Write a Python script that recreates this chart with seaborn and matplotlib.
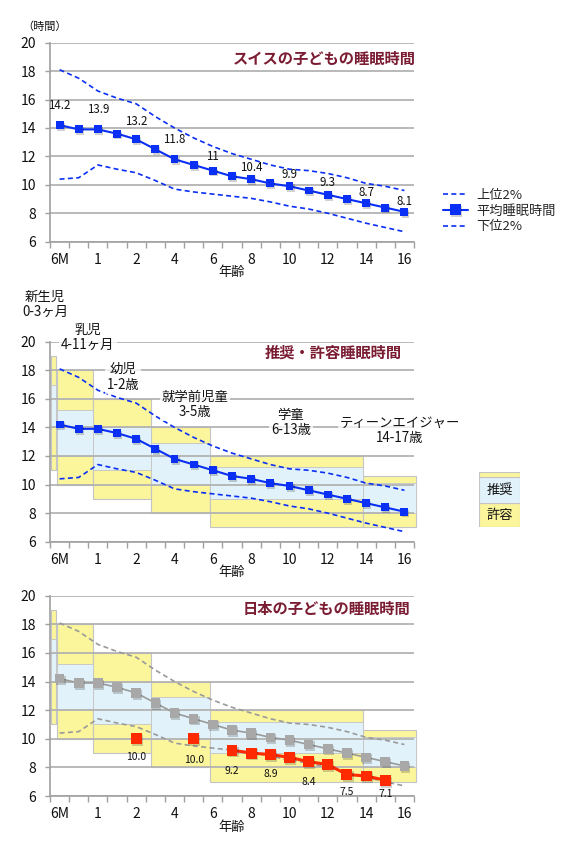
import numpy as np
import pandas as pd
import seaborn as sns
import matplotlib
matplotlib.use("Agg")
import matplotlib.pyplot as plt
import matplotlib.patheffects as pe
from matplotlib.patches import Rectangle
from matplotlib.lines import Line2D

# ---------------- data ----------------
ages = ["6M", "9M", "1", "1.5", "2", "3", "4", "5", "6", "7", "8", "9",
        "10", "11", "12", "13", "14", "15", "16"]
shown_ticks = ["6M", "1", "2", "4", "6", "8", "10", "12", "14", "16"]

swiss_mean = [14.2, 13.9, 13.9, 13.6, 13.2, 12.5, 11.8, 11.4, 11.0, 10.6,
              10.4, 10.1, 9.9, 9.6, 9.3, 9.0, 8.7, 8.4, 8.1]
swiss_upper = [18.1, 17.5, 16.6, 16.1, 15.7, 14.8, 14.0, 13.3, 12.7, 12.2,
               11.8, 11.4, 11.1, 11.0, 10.8, 10.5, 10.1, 9.9, 9.6]
swiss_lower = [10.4, 10.5, 11.4, 11.1, 10.85, 10.3, 9.7, 9.5, 9.35, 9.2,
               9.05, 8.8, 8.5, 8.3, 8.0, 7.65, 7.3, 7.0, 6.7]
swiss_label_idx = [0, 2, 4, 6, 8, 10, 12, 14, 16, 18]
swiss_label_txt = ["14.2", "13.9", "13.2", "11.8", "11", "10.4", "9.9", "9.3", "8.7", "8.1"]

japan = [np.nan, np.nan, np.nan, np.nan, 10.0, np.nan, np.nan, 10.0, np.nan,
         9.2, 9.0, 8.9, 8.7, 8.4, 8.2, 7.5, 7.4, 7.1, np.nan]
japan_label_idx = [4, 7, 9, 11, 13, 15, 17]
japan_label_txt = ["10.0", "10.0", "9.2", "8.9", "8.4", "7.5", "7.1"]

groups = ["新生児\n0-3ヶ月", "乳児\n4-11ヶ月", "幼児\n1-2歳", "就学前児童\n3-5歳",
          "学童\n6-13歳", "ティーンエイジャー\n14-17歳"]
rec_lo = [14, 12, 11, 10, 9, 8]
rec_hi = [17, 15.2, 14, 12.9, 11.2, 10.1]
ok_lo = [11, 10, 9, 8, 7, 7]
ok_hi = [19, 18, 16, 14, 12, 10.6]

# ---------------- layout / style ----------------
group_start = [-0.46, -0.12, 1.76, 4.77, 7.87, 15.83]
group_end = [-0.19, 1.76, 4.77, 7.87, 15.83, 18.62]
group_text_pos = [(-0.76, 22.6), (1.48, 20.3), (3.31, 17.55), (7.07, 15.6),
                  (12.08, 14.35), (17.77, 13.8)]
swiss_label_dy = [20, 20, 18, 20, 14, 12, 12, 12, 11, 10]   # px above
japan_label_dy = [18, 21, 21, 19, 20, 17, 14]               # px below

BLUE = "#0a2ff5"
RED = "#ff2a00"
GRAY_M = "#a8a8a8"
GRAY_L = "#9a9a9a"
YEL = "#fbf59c"
LBLUE = "#e1f2fa"
EDGE = "#c4c4c4"
GRID = "#b3b3b3"
TITLE = "#7a1c32"
PX = 0.72  # px -> pt at 100 dpi

sns.set_theme(style="white")
plt.rcParams["font.family"] = ["Noto Sans CJK JP", "DejaVu Sans"]

df = pd.DataFrame({"pos": np.arange(len(ages)), "age": ages,
                   "mean": swiss_mean, "upper": swiss_upper,
                   "lower": swiss_lower, "japan": japan})

fig = plt.figure(figsize=(5.79, 8.5), dpi=100)
W, H = 579, 850


def make_ax(top_px, bottom_px):
    ax = fig.add_axes([50 / W, 1 - bottom_px / H, 364 / W, (bottom_px - top_px) / H])
    ax.set_xlim(-0.5, 18.5)
    ax.set_ylim(6, 20)
    ax.set_yticks(np.arange(6, 21, 2))
    ax.yaxis.grid(True, color=GRID, lw=1.3)
    ax.set_axisbelow(True)
    for s in ["top", "right"]:
        ax.spines[s].set_visible(False)
    for s in ["left", "bottom"]:
        ax.spines[s].set_color("#a0a0a0")
        ax.spines[s].set_linewidth(1.2)
    ax.set_xticks(np.arange(-0.5, 19, 1))
    ax.set_xticklabels([])
    ax.tick_params(axis="x", which="major", direction="out", length=4,
                   color="#a0a0a0", width=1, bottom=True)
    ax.set_xticks(np.arange(0, 19, 2), shown_ticks, minor=True)
    ax.tick_params(axis="x", which="minor", length=0, pad=8, labelsize=10,
                   labelcolor="#111111")
    ax.tick_params(axis="y", direction="out", length=3.5, color="#a0a0a0",
                   width=1, left=True, pad=6.5, labelsize=10, labelcolor="#111111")
    ax.set_xlabel("")
    ax.set_ylabel("")
    ax.annotate("年齢", xy=(0.5, 0), xycoords="axes fraction",
                xytext=(0, -31 * PX), textcoords="offset points",
                ha="center", va="center", fontsize=9.5, color="#111111")
    return ax


shadow = [pe.SimplePatchShadow(offset=(0.8, -1.3), shadow_rgbFace="black", alpha=0.18),
          pe.Normal()]


def draw_swiss(ax, line_c, mark_c, dash_c, msize, lw):
    sns.lineplot(data=df, x="pos", y="upper", ax=ax, color=dash_c, lw=1.2,
                 linestyle=(0, (3, 2)), zorder=3)
    sns.lineplot(data=df, x="pos", y="lower", ax=ax, color=dash_c, lw=1.2,
                 linestyle=(0, (3, 2)), zorder=3)
    sns.lineplot(data=df, x="pos", y="mean", ax=ax, color=line_c, lw=lw, zorder=4)
    sns.scatterplot(data=df, x="pos", y="mean", ax=ax, color=mark_c, marker="s",
                    s=msize, linewidth=0, zorder=5)
    ax.collections[-1].set_path_effects(shadow)


def draw_boxes(ax):
    for i in range(len(groups)):
        x0, x1 = group_start[i], group_end[i]
        ax.add_patch(Rectangle((x0, ok_lo[i]), x1 - x0, ok_hi[i] - ok_lo[i],
                               facecolor=YEL, edgecolor=EDGE, lw=0.8, zorder=0.2,
                               clip_on=False))
        ax.add_patch(Rectangle((x0, rec_lo[i]), x1 - x0, rec_hi[i] - rec_lo[i],
                               facecolor=LBLUE, edgecolor=EDGE, lw=0.6, zorder=0.3,
                               clip_on=False))


# ---------------- top panel ----------------
ax1 = make_ax(42.7, 241.7)
draw_swiss(ax1, BLUE, BLUE, BLUE, 32, 1.5)
for i, t, dy in zip(swiss_label_idx, swiss_label_txt, swiss_label_dy):
    ax1.annotate(t, xy=(df["pos"][i], df["mean"][i]), xytext=(0, dy * PX),
                 textcoords="offset points", ha="center", va="center",
                 fontsize=8.3, color="#111111", zorder=6)
ax1.text(1.005, 0.92, "スイスの子どもの睡眠時間", transform=ax1.transAxes,
         ha="right", va="center", fontsize=11, fontweight="bold", color=TITLE)
ax1.set_xlabel("")
ax1.set_ylabel("")
fig.text(45 / W, 1 - 27 / H, "（時間）", ha="center", va="center", fontsize=8,
         color="#111111")

handles = [Line2D([], [], color=BLUE, lw=1.2, linestyle=(0, (3, 2))),
           Line2D([], [], color=BLUE, lw=1.5, marker="s", markersize=8,
                  markeredgewidth=0, path_effects=shadow),
           Line2D([], [], color=BLUE, lw=1.2, linestyle=(0, (3, 2)))]
fig.legend(handles, ["上位2%", "平均睡眠時間", "下位2%"], loc="center left",
           bbox_to_anchor=(443 / W, 1 - 211 / H), frameon=False, fontsize=9.5,
           handlelength=1.9, handletextpad=0.6, labelspacing=0.2,
           borderpad=0, borderaxespad=0)

# ---------------- middle panel ----------------
ax2 = make_ax(341.7, 541.7)
draw_boxes(ax2)
draw_swiss(ax2, BLUE, BLUE, BLUE, 32, 1.5)
for g, (gx, gy) in zip(groups, group_text_pos):
    ax2.text(gx, gy, g, ha="center", va="center", fontsize=9.6, color="#111111",
             linespacing=1.15, zorder=7, clip_on=False,
             bbox=dict(boxstyle="square,pad=0.15", fc="white", ec="none", alpha=0.75))
ax2.text(0.967, 0.947, "推奨・許容睡眠時間", transform=ax2.transAxes,
         ha="right", va="center", fontsize=11, fontweight="bold", color=TITLE)
ax2.set_xlabel("")
ax2.set_ylabel("")

# legend for boxes
lax = fig.add_axes([479 / W, 1 - 527 / H, 41 / W, 55.3 / H])
lax.set_xlim(0, 1)
lax.set_ylim(0, 1)
lax.axis("off")
lax.add_patch(Rectangle((0, 0), 1, 0.43, facecolor=YEL, edgecolor=EDGE, lw=0.8))
lax.add_patch(Rectangle((0, 0.43), 1, 0.47, facecolor=LBLUE, edgecolor=EDGE, lw=0.8))
lax.add_patch(Rectangle((0, 0.90), 1, 0.10, facecolor=YEL, edgecolor=EDGE, lw=0.8))
lax.text(0.5, 0.665, "推奨", ha="center", va="center", fontsize=9.5, color="#111111")
lax.text(0.5, 0.215, "許容", ha="center", va="center", fontsize=9.5, color="#111111")

# ---------------- bottom panel ----------------
ax3 = make_ax(595.7, 796)
draw_boxes(ax3)
draw_swiss(ax3, GRAY_L, GRAY_M, GRAY_L, 48, 1.2)
jp = df.dropna(subset=["japan"])
runs = (jp["pos"].diff() != 1).cumsum()
for _, seg in jp.groupby(runs):
    if len(seg) > 1:
        sns.lineplot(data=seg, x="pos", y="japan", ax=ax3, color=RED, lw=2.2, zorder=6)
sns.scatterplot(data=jp, x="pos", y="japan", ax=ax3, color=RED, marker="s",
                s=62, linewidth=0, zorder=7)
ax3.collections[-1].set_path_effects(shadow)
for i, t, dy in zip(japan_label_idx, japan_label_txt, japan_label_dy):
    ax3.annotate(t, xy=(df["pos"][i], df["japan"][i]), xytext=(0, -dy * PX),
                 textcoords="offset points", ha="center", va="center",
                 fontsize=7.5, color="#111111", zorder=8)
ax3.text(0.99, 0.932, "日本の子どもの睡眠時間", transform=ax3.transAxes,
         ha="right", va="center", fontsize=11, fontweight="bold", color=TITLE)
ax3.set_xlabel("")
ax3.set_ylabel("")

fig.savefig("out.png", dpi=100)
